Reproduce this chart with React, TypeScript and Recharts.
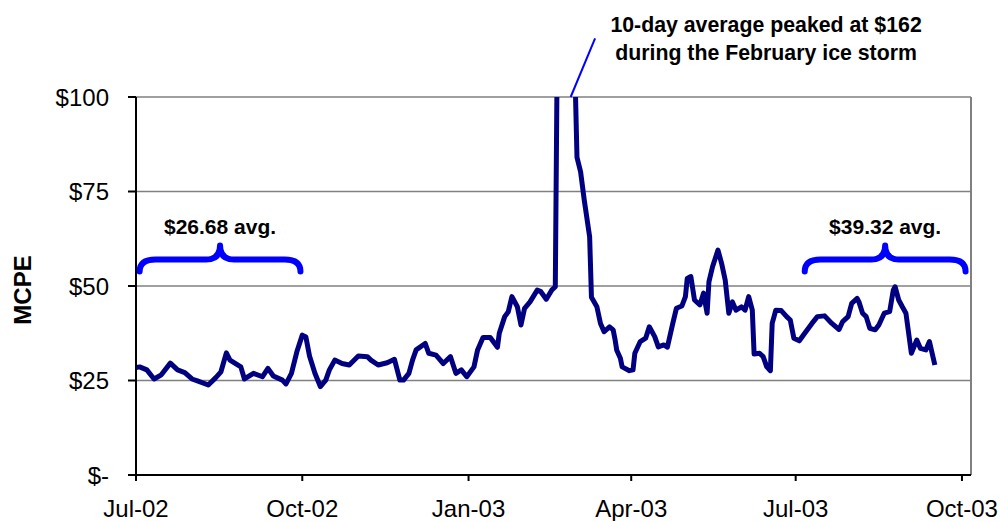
import { LineChart, Line, XAxis, YAxis, CartesianGrid, ReferenceLine, Label } from "recharts";

// day offsets from 1 Jul 2002 and the 10-day average MCPE ($/MWh) on that day
const days = [
  0, 2, 6, 10, 14, 19, 23, 27, 31, 34, 40, 44, 47, 50, 52, 58, 60, 65, 70, 73,
  76, 81, 83, 86, 89, 92, 94, 96, 99, 102, 105, 107, 110, 114, 118, 123, 128, 130, 134, 139,
  143, 146, 148, 151, 153, 155, 160, 162, 166, 170, 174, 177, 180, 183, 187, 189, 192, 196, 200, 201,
  204, 206, 208, 211, 213, 215, 218, 222, 224, 227, 230, 232, 233, 234, 235, 236, 237, 238, 239, 240,
  241, 242, 243, 244, 246, 248, 251, 252, 255, 257, 259, 262, 264, 265, 266, 268, 269, 273, 275, 276,
  279, 282, 284, 287, 289, 292, 294, 297, 299, 302, 304, 305, 307, 309, 312, 314, 316, 317, 319, 322,
  324, 326, 328, 330, 332, 335, 337, 339, 341, 342, 345, 347, 349, 351, 352, 354, 357, 360, 362, 364,
  367, 370, 374, 377, 381, 385, 389, 391, 394, 396, 399, 400, 402, 404, 406, 409, 411, 414, 417, 419,
  420, 422, 424, 426, 429, 432, 434, 437, 439, 442,
];
const mcpe = [
  28.4, 28.6, 27.8, 25.4, 26.5, 29.6, 27.8, 27.1, 25.4, 24.9, 23.8, 25.7, 27.3, 32.3, 30.4, 28.6, 25.4, 26.9, 26.0, 28.2,
  26.2, 25.1, 24.1, 26.9, 32.6, 37.0, 36.5, 31.5, 26.9, 23.4, 25.1, 27.8, 30.4, 29.5, 29.1, 31.5, 31.3, 30.4, 29.1, 29.7,
  30.6, 25.1, 25.1, 26.9, 30.4, 33.1, 34.8, 32.2, 31.7, 29.5, 31.3, 26.9, 27.8, 26.0, 28.6, 33.1, 36.4, 36.4, 33.8, 37.5,
  41.9, 43.2, 47.2, 44.5, 39.7, 44.1, 45.8, 48.9, 48.5, 46.5, 48.9, 49.8, 108, 131, 147, 157, 162, 159, 151, 140,
  128, 116, 104, 84, 80.2, 72.8, 63, 47, 44.5, 40.1, 37.9, 39.2, 38.4, 36, 33, 30.9, 28.6, 27.6, 27.8, 32.2,
  35.3, 36.2, 39.2, 36.6, 33.9, 34.4, 33.8, 40.1, 44.1, 44.7, 47.2, 52.0, 52.5, 46.3, 45.0, 48.1, 42.8, 51.1, 55.1, 59.5,
  56.0, 51.6, 42.8, 45.8, 43.6, 44.5, 43.6, 47.2, 43.6, 32, 32.2, 31.3, 28.6, 27.6, 40.1, 43.6, 43.5, 41.9, 41.0, 36.2,
  35.5, 37.5, 40.1, 41.9, 42.1, 40.1, 38.5, 40.6, 41.9, 45.4, 46.7, 45.8, 42.8, 41.9, 38.8, 38.4, 39.7, 42.8, 43.2, 48.9,
  49.8, 46.3, 44.5, 42.8, 32.2, 35.7, 33.5, 33.1, 35.3, 29.1,
];

const tickDays = [0, 92, 184, 274, 365, 457];
const tickLabels = ["Jul-02", "Oct-02", "Jan-03", "Apr-03", "Jul-03", "Oct-03"];
const priceTicks = [0, 25, 50, 75, 100];

// period averages shown over curly braces
const avgFrom = [2, 370];
const avgTo = [91, 459];
const avgLabels = ["$26.68 avg.", "$39.32 avg."];
const BRACE_LEVEL = 57;

const peakNote = ["10-day average peaked at $162", "during the February ice storm"];

const data = days.map((day, i) => ({ day, mcpe: mcpe[i] }));

const FONT = "'Liberation Sans', Arial, sans-serif";
const BLUE = "#0000ff";

function Brace({ x1, y1, x2, text }: any) {
  const mid = (x1 + x2) / 2;
  const y = y1;
  const d = `M ${x1} ${y + 12} Q ${x1} ${y} ${x1 + 16} ${y} L ${mid - 14} ${y} Q ${mid} ${y} ${mid} ${y - 14} Q ${mid} ${y} ${mid + 14} ${y} L ${x2 - 16} ${y} Q ${x2} ${y} ${x2} ${y + 12}`;
  return (
    <g>
      <path d={d} fill="none" stroke={BLUE} strokeWidth={6} strokeLinecap="round" strokeLinejoin="round" />
      <text x={mid} y={y - 26} textAnchor="middle" fontFamily={FONT} fontWeight="bold" fontSize={21} fill="#000">
        {text}
      </text>
    </g>
  );
}

function PeakCallout({ x1, y1, x2, y2 }: any) {
  return (
    <g>
      <line x1={x1} y1={y1} x2={x2} y2={y2} stroke={BLUE} strokeWidth={2} />
      {peakNote.map((line, i) => (
        <text key={i} x={x2 + 171} y={y2 - 6 + i * 28} textAnchor="middle" fontFamily={FONT} fontWeight="bold" fontSize={21.3} fill="#000">
          {line}
        </text>
      ))}
    </g>
  );
}

export default function App() {
  return (
    <div style={{ position: "absolute", left: 0, top: 0, background: "#fff" }}>
      <LineChart
        width={1000}
        height={521}
        data={data}
        margin={{ top: 97, right: 29, bottom: 0, left: 0 }}
        style={{ fontFamily: FONT }}
      >
        <CartesianGrid vertical={false} stroke="#808080" strokeWidth={1.5} />
        <XAxis
          dataKey="day"
          type="number"
          domain={[0, 462]}
          ticks={tickDays}
          tickFormatter={(v: number) => tickLabels[tickDays.indexOf(v)]}
          height={46}
          stroke="#000"
          strokeWidth={2}
          tickSize={6}
          tickMargin={19}
          tick={{ fill: "#000", fontSize: 24 }}
        />
        <YAxis
          type="number"
          domain={[0, 100]}
          allowDataOverflow
          ticks={priceTicks}
          tickFormatter={(v: number) => (v === 0 ? "$-" : `$${v}`)}
          width={136}
          stroke="#000"
          strokeWidth={2}
          tickSize={8}
          tickMargin={19}
          tick={{ fill: "#000", fontSize: 24 }}
        >
          <Label
            content={() => (
              <text
                x={22}
                y={290}
                transform="rotate(-90, 22, 290)"
                textAnchor="middle"
                dominantBaseline="central"
                fontFamily={FONT}
                fontWeight="bold"
                fontSize={24}
                fill="#000"
              >
                MCPE
              </text>
            )}
          />
        </YAxis>
        <ReferenceLine x={462} stroke="#808080" strokeWidth={2} />
        <Line
          type="linear"
          dataKey="mcpe"
          stroke="#000080"
          strokeWidth={5}
          strokeLinejoin="round"
          dot={false}
          isAnimationActive={false}
        />
        {avgLabels.map((text, i) => (
          <ReferenceLine
            key={text}
            segment={[
              { x: avgFrom[i], y: BRACE_LEVEL },
              { x: avgTo[i], y: BRACE_LEVEL },
            ]}
            ifOverflow="visible"
            shape={(p: any) => <Brace {...p} text={text} />}
          />
        ))}
        <ReferenceLine
          segment={[
            { x: 240.5, y: 100 },
            { x: 254, y: 115.5 },
          ]}
          ifOverflow="visible"
          shape={(p: any) => <PeakCallout {...p} />}
        />
      </LineChart>
    </div>
  );
}
